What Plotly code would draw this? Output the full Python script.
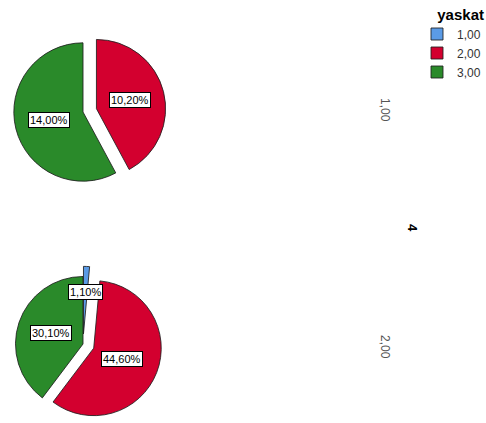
import math
import plotly.graph_objects as go

W, H = 486, 423

# ---------------- data ----------------
categories = ["1,00", "2,00", "3,00"]
legend_title = "yaskat"
row_title = "4"
panel_labels = ["1,00", "2,00"]

# panel "1,00"
top_labels = ["2,00", "3,00"]
top_values = [10.20, 14.00]
# panel "2,00"
bottom_labels = ["1,00", "2,00", "3,00"]
bottom_values = [1.10, 44.60, 30.10]

# ---------------- style ----------------
color_map = {"1,00": "#5B9BE6", "2,00": "#D3002F", "3,00": "#2A8A2A"}
FONT = "Liberation Sans, Arial, sans-serif"

top_pull = [0.2, 0.0]
bottom_pull = [0.15, 0.17, 0.0]
top_domain = dict(x=[0.0, 0.3416], y=[0.5366, 0.9338])
bottom_domain = dict(x=[0.0, 0.3416], y=[0.0, 0.3735])
top_label_r = [0.5, 0.5]
bottom_label_r = [0.62, 0.45, 0.5]


def pie_trace(labels, values, pull, domain, name):
    return go.Pie(
        labels=labels,
        values=values,
        pull=pull,
        domain=domain,
        sort=False,
        direction="clockwise",
        rotation=0,
        textinfo="none",
        hoverinfo="label+value",
        marker=dict(colors=[color_map[l] for l in labels],
                    line=dict(color="rgba(30,30,30,0.85)", width=1)),
        name=name,
        showlegend=True,
    )


def label_annotations(values, pull, domain, rfac):
    # replicate plotly pie geometry to place boxed value labels
    w = W * (domain["x"][1] - domain["x"][0])
    h = H * (domain["y"][1] - domain["y"][0])
    r = min(w, h) / 2 / (1 + max(pull))
    cx = W * (domain["x"][0] + domain["x"][1]) / 2
    cy = H * (domain["y"][0] + domain["y"][1]) / 2  # y measured upward
    total = sum(values)
    cum = 0.0
    anns = []
    for v, p, rf in zip(values, pull, rfac):
        mid = (cum + v / 2) / total * 2 * math.pi
        cum += v
        d = (p + rf) * r
        px = cx + d * math.sin(mid)
        py = cy + d * math.cos(mid)
        anns.append(dict(
            x=px / W, y=py / H, xref="paper", yref="paper",
            text=f"{v:.2f}".replace(".", ",") + "%",
            showarrow=False,
            font=dict(family=FONT, size=11, color="black"),
            bgcolor="white", bordercolor="black", borderwidth=1, borderpad=1,
            xanchor="center", yanchor="middle",
        ))
    return anns


fig = go.Figure()
fig.add_trace(pie_trace(bottom_labels, bottom_values, bottom_pull, bottom_domain, panel_labels[1]))
fig.add_trace(pie_trace(top_labels, top_values, top_pull, top_domain, panel_labels[0]))

annotations = []
annotations += label_annotations(top_values, top_pull, top_domain, top_label_r)
annotations += label_annotations(bottom_values, bottom_pull, bottom_domain, bottom_label_r)

# panel strip labels
annotations.append(dict(x=385 / W, y=1 - 110 / H, xref="paper", yref="paper",
                        xanchor="center", yanchor="middle",
                        text=panel_labels[0], textangle=90, showarrow=False,
                        font=dict(family=FONT, size=12, color="#555555")))
annotations.append(dict(x=385 / W, y=1 - 347 / H, xref="paper", yref="paper",
                        xanchor="center", yanchor="middle",
                        text=panel_labels[1], textangle=90, showarrow=False,
                        font=dict(family=FONT, size=12, color="#555555")))
annotations.append(dict(x=413 / W, y=1 - 228 / H, xref="paper", yref="paper",
                        xanchor="center", yanchor="middle",
                        text=f"<b>{row_title}</b>", textangle=90, showarrow=False,
                        font=dict(family=FONT, size=13, color="black")))

fig.update_layout(
    width=W, height=H,
    margin=dict(l=0, r=0, t=0, b=0),
    paper_bgcolor="white", plot_bgcolor="white",
    annotations=annotations,
    legend=dict(
        title=dict(text=f"<b>{legend_title}</b>", side="top right",
                   font=dict(family=FONT, size=15, color="black")),
        x=1.0, xanchor="right", y=1.0, yanchor="top",
        font=dict(family=FONT, size=12, color="#333333"),
        bgcolor="rgba(0,0,0,0)",
        traceorder="normal",
    ),
    font=dict(family=FONT),
)

fig.write_html("out.html", config={"displayModeBar": False},
               post_script="document.body.style.margin='0';")
